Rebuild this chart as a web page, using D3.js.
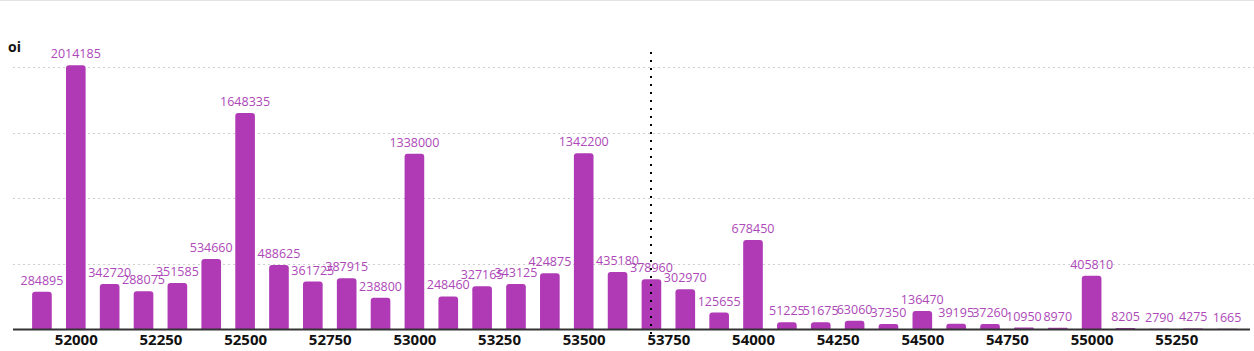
<!DOCTYPE html>
<html><head><meta charset="utf-8">
<script src="https://cdn.jsdelivr.net/npm/d3@7"></script>
<style>
html,body{margin:0;padding:0;background:#fff;}
svg{display:block;}
</style></head>
<body>
<svg id="c" width="1254" height="351"></svg>
<script>
const strikes = [51900,52000,52100,52200,52300,52400,52500,52600,52700,52800,52900,53000,53100,53200,53300,53400,53500,53600,53700,53800,53900,54000,54100,54200,54300,54400,54500,54600,54700,54800,54900,55000,55100,55200,55300,55400];
const oi = [284895,2014185,342720,288075,351585,534660,1648335,488625,361725,387915,238800,1338000,248460,327165,343125,424875,1342200,435180,378960,302970,125655,678450,51225,51675,63060,37350,136470,39195,37260,10950,8970,405810,8205,2790,4275,1665];
const tickLabels = [52000,52250,52500,52750,53000,53250,53500,53750,54000,54250,54500,54750,55000,55250];
const gridValues = [500000,1000000,1500000,2000000];
const spot = 53700;
const yLabel = "oi";

const svg = d3.select("#c");
const W = 1254, H = 351;
const baseY = 329, topY = 67;

// top border line
svg.append("line").attr("x1",0).attr("x2",W).attr("y1",0.5).attr("y2",0.5)
  .attr("stroke","#e3e3e3").attr("stroke-width",1);

const x = d3.scaleBand().domain(strikes).range([25,1244]).paddingInner(0.42).paddingOuter(0.21);
const y = d3.scaleLinear().domain([0,2000000]).range([baseY, topY]);

const xl = d3.scaleLinear().domain([strikes[0], strikes[strikes.length-1]])
  .range([x(strikes[0])+x.bandwidth()/2, x(strikes[strikes.length-1])+x.bandwidth()/2]);

// grid
svg.append("g").selectAll("line").data(gridValues).join("line")
  .attr("x1",13).attr("x2",W).attr("y1",d=>Math.round(y(d))+0.5).attr("y2",d=>Math.round(y(d))+0.5)
  .attr("stroke","#cfcfcf").attr("stroke-width",1).attr("stroke-dasharray","2,3");

// bars
const bw = x.bandwidth();
svg.append("g").selectAll("path").data(strikes).join("path")
  .attr("fill","#b03ab6")
  .attr("d",(d,i)=>{
    const x0 = x(d), y0 = y(oi[i]), h = baseY - y0;
    const r = Math.min(3, h/2, bw/2);
    return `M${x0},${baseY} L${x0},${y0+r} Q${x0},${y0} ${x0+r},${y0} L${x0+bw-r},${y0} Q${x0+bw},${y0} ${x0+bw},${y0+r} L${x0+bw},${baseY} Z`;
  });

// value labels
svg.append("g").selectAll("text").data(strikes).join("text")
  .attr("x",d=>x(d)+bw/2).attr("y",(d,i)=>y(oi[i])-7)
  .attr("text-anchor","middle")
  .attr("font-family","'Open Sans', sans-serif").attr("font-size",12.5)
  .attr("fill","#ad48b8")
  .text((d,i)=>oi[i]);

// x axis
const axis = d3.axisBottom(xl).tickValues(tickLabels).tickSize(0).tickPadding(5).tickFormat(d=>d);
const ax = svg.append("g").attr("transform",`translate(0,${baseY})`).call(axis);
ax.select(".domain").remove();
ax.selectAll("text").attr("font-family","'Open Sans', sans-serif").attr("font-size",15)
  .attr("font-weight","bold").attr("fill","#111");
svg.append("line").attr("x1",13).attr("x2",1250).attr("y1",baseY+0.5).attr("y2",baseY+0.5)
  .attr("stroke","#333").attr("stroke-width",2);

// spot dotted line
svg.append("line").attr("x1",Math.round(xl(spot))).attr("x2",Math.round(xl(spot)))
  .attr("y1",52).attr("y2",337).attr("stroke","#000").attr("stroke-width",2)
  .attr("stroke-dasharray","2,6");

// y label
svg.append("text").attr("x",8).attr("y",52).attr("font-family","'Open Sans', sans-serif")
  .attr("font-size",14).attr("font-weight","bold").attr("fill","#111").text(yLabel);
</script>
</body></html>
